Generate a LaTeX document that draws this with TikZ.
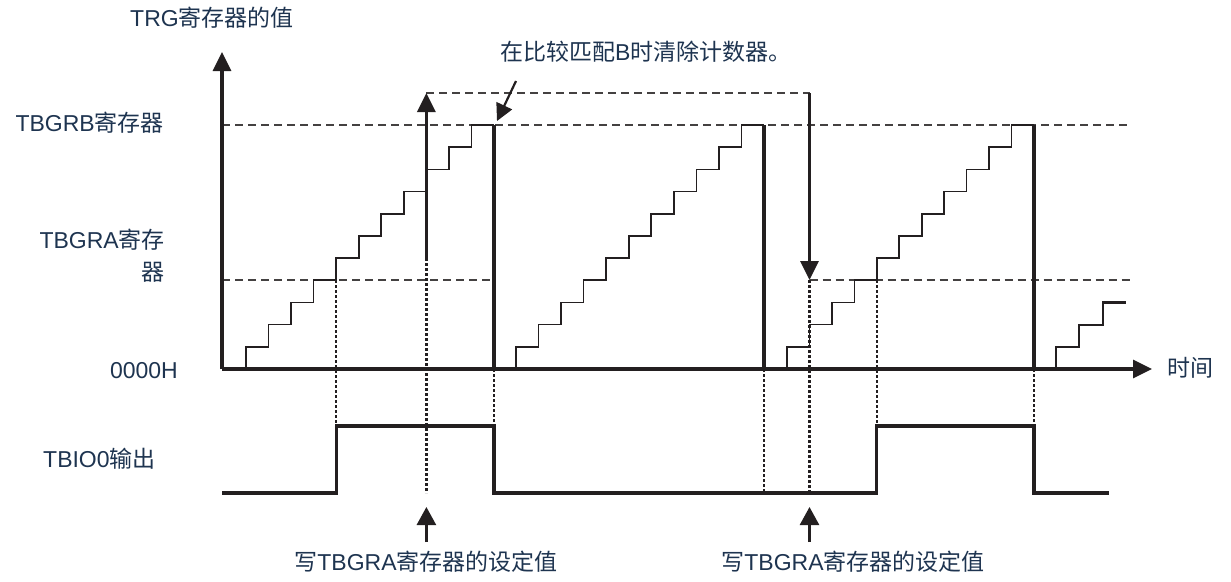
\documentclass[tikz,border=0pt]{standalone}
\usepackage{fontspec}
\setmainfont{Liberation Sans}
\newfontfamily\cjk{Noto Sans CJK SC}
\usetikzlibrary{arrows.meta}
\definecolor{ink}{HTML}{231F20}
\definecolor{txt}{HTML}{1E3450}
\begin{document}
\begin{tikzpicture}[x=1pt,y=-1pt,
  lbl/.style={inner sep=0pt, text=txt, font=\fontsize{23}{32}\selectfont},
  bigtip/.style={-{Triangle[width=18pt,length=19pt]}},
  axisln/.style={draw=ink, line width=3.2pt, line cap=butt},
  heavy/.style={draw=ink, line width=3.2pt},
  stair/.style={draw=ink, line width=1.7pt, line join=miter},
  dashln/.style={draw=ink!85, line width=2pt, dash pattern=on 8pt off 5pt},
  dotln/.style={draw=ink, line width=2.2pt, dash pattern=on 2.5pt off 2.5pt},
  wave/.style={draw=ink, line width=3.2pt, line join=miter}
]
\useasboundingbox (0,0) rectangle (1231,581);

% key coordinates
\coordinate (O) at (222,369);
\coordinate (Ytop) at (222,52);
\coordinate (Xend) at (1152,369);

% dashed reference lines
\draw[dashln] (222,125) -- (1130,125);
\draw[dashln] (222,280) -- (494,280);
\draw[dashln] (809.5,280) -- (1130,280);
\draw[dashln] (426.4,93) -- (809.5,93);

% dotted guide lines
\draw[dotln] (336.2,280) -- (336.2,426);
\draw[dotln] (426.4,258) -- (426.4,493);
\draw[dotln] (494,369) -- (494,426);
\draw[dotln] (764,369) -- (764,493);
\draw[dotln] (809.5,280) -- (809.5,493);
\draw[dotln] (876.8,280) -- (876.8,426);
\draw[dotln] (1034,369) -- (1034,426);

% staircases
\draw[stair] (222,369) -- (246,369)
  \foreach \k in {0,...,10} { -- ({246+22.545*\k},{369-22.18*(\k+1)}) -- ({246+22.545*(\k+1)},{369-22.18*(\k+1)}) };
\draw[stair] (516,369)
  \foreach \k in {0,...,10} { -- ({516+22.545*\k},{369-22.18*(\k+1)}) -- ({516+22.545*(\k+1)},{369-22.18*(\k+1)}) };
\draw[stair] (787,369)
  \foreach \k in {0,...,10} { -- ({787+22.45*\k},{369-22.18*(\k+1)}) -- ({787+22.45*(\k+1)},{369-22.18*(\k+1)}) };
\draw[stair, line width=2.2pt] (1056,369)
  \foreach \k in {0,...,2} { -- ({1056+23.3*\k},{369-22.18*(\k+1)}) -- ({1056+23.3*(\k+1)},{369-22.18*(\k+1)}) };

% counter clears
\draw[heavy] (494,125) -- (494,369);
\draw[heavy] (764,125) -- (764,369);
\draw[heavy] (1034,125) -- (1034,369);

% axes
\draw[axisln, bigtip] (O) -- (Ytop);
\draw[axisln, bigtip] (O) -- (Xend);

% TBGRA change arrows
\coordinate (upA) at (426.4,258);
\coordinate (upB) at (426.4,93);
\coordinate (dnA) at (809.5,93);
\coordinate (dnB) at (809.5,280);
\draw[heavy, bigtip] (upA) -- (upB);
\draw[heavy, bigtip] (dnA) -- (dnB);

% TBIO0 output waveform
\draw[wave] (222,493) -- (336.2,493) -- (336.2,426) -- (494,426) -- (494,493)
  -- (876.8,493) -- (876.8,426) -- (1034,426) -- (1034,493) -- (1109,493);

% labels
\node[lbl, anchor=west] (ylab) at (130,18) {TRG{\cjk 寄存器的值}};
\node[lbl, anchor=east] (lb) at (164,123) {TBGRB{\cjk 寄存器}};
\node[lbl, anchor=east, align=right] (la) at (165,256) {TBGRA{\cjk 寄存}\\{\cjk 器}};
\node[lbl, anchor=east] (lz) at (178,371) {0000H};
\node[lbl, anchor=west] (lo) at (43,459) {TBIO0{\cjk 输出}};
\node[lbl, anchor=west] (tt) at (500,52) {{\cjk 在比较匹配}B{\cjk 时清除计数器。}};
\node[lbl, anchor=west] (lt) at (1167,368) {{\cjk 时间}};
\node[lbl] (n1) at (426,562) {{\cjk 写}TBGRA{\cjk 寄存器的设定值}};
\node[lbl] (n2) at (853,562) {{\cjk 写}TBGRA{\cjk 寄存器的设定值}};

% pointer arrows
\coordinate (pc1) at (516,81);
\coordinate (pc2) at (497,121);
\draw[draw=ink, line width=2.2pt, -{Triangle[width=17pt,length=17pt]}] (pc1) -- (pc2);
\coordinate (w1a) at (426.4,542);
\coordinate (w1b) at (426.4,507);
\coordinate (w2a) at (809.5,542);
\coordinate (w2b) at (809.5,507);
\draw[draw=ink, line width=2.6pt, -{Triangle[width=19pt,length=18pt]}] (w1a) -- (w1b);
\draw[draw=ink, line width=2.6pt, -{Triangle[width=19pt,length=18pt]}] (w2a) -- (w2b);
\end{tikzpicture}
\end{document}
